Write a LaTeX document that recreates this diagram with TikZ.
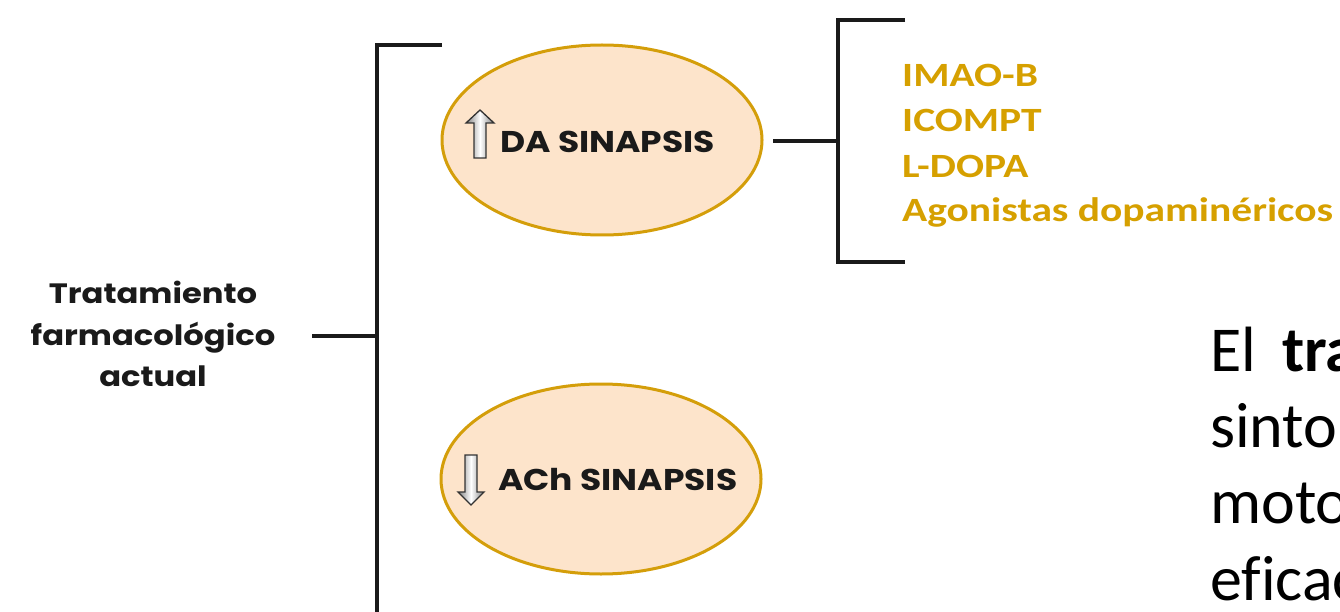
\documentclass[tikz,border=0pt]{standalone}
\usepackage{fontspec}
\usetikzlibrary{shapes.geometric}
\setmainfont{Carlito}
\newfontfamily\dfont{Poppins}[FakeStretch=1.15]
\newfontfamily\ofont{Carlito}[FakeStretch=1.22]
\definecolor{gold}{HTML}{D6A000}
\definecolor{goldline}{HTML}{D49E0A}
\definecolor{peach}{HTML}{FDE4CB}
\definecolor{ink}{HTML}{1A1A1A}
\tikzset{
  ell/.style={ellipse, draw=goldline, line width=3pt, fill=peach, minimum width=320pt, minimum height=190pt, inner sep=0pt},
  bar/.style={draw=ink, line width=3.4pt},
  dtext/.style={font=\dfont\bfseries\fontsize{30}{36}\selectfont, text=ink, inner sep=0pt},
  ltext/.style={font=\dfont\bfseries\fontsize{28}{34}\selectfont, text=ink, inner sep=0pt, anchor=base},
  otext/.style={font=\ofont\bfseries\fontsize{34}{40}\selectfont, text=gold, inner sep=0pt, anchor=base west},
  btext/.style={font=\fontsize{64}{76}\selectfont, text=black, inner sep=0pt, anchor=base west},
  blockarrow/.style={draw=black!80, line width=1.3pt, left color=black!50, right color=black!50, middle color=white}
}
\begin{document}
\begin{tikzpicture}[x=1pt,y=-1pt]
\useasboundingbox (0,0) rectangle (1340,612);
\clip (0,0) rectangle (1340,612);

% left text
\node[ltext] (tr1) at (153,303) {Tratamiento};
\node[ltext] (tr2) at (153,345) {farmacológico};
\node[ltext] (tr3) at (153,386) {actual};

% main bracket
\coordinate (b1top) at (377,45);
\coordinate (b1topend) at (442,45);
\coordinate (b1bot) at (377,640);
\coordinate (b1mid) at (377,336);
\coordinate (trout) at (312,336);
\draw[bar] (b1topend) -- (b1top) -- (b1bot);
\draw[bar] (trout) -- (b1mid);

% ellipses
\node[ell] (e1) at (602,140) {};
\node[ell] (e2) at (601,479) {};

\node[dtext, anchor=base west] (t1) at (500,153) {DA SINAPSIS};
\node[dtext, anchor=base west] (t2) at (498,490) {ACh SINAPSIS};

% up arrow
\shadedraw[blockarrow] (474,158) -- (474,123) -- (466,123) -- (480,110) -- (494,123) -- (486,123) -- (486,158) -- cycle;
% down arrow
\shadedraw[blockarrow] (465,455) -- (465,492) -- (458,492) -- (471,505) -- (484,492) -- (477,492) -- (477,455) -- cycle;

% second bracket
\coordinate (e1out) at (773,141);
\coordinate (b2mid) at (838,141);
\coordinate (b2top) at (838,20);
\coordinate (b2bot) at (838,262);
\coordinate (b2topend) at (905,20);
\coordinate (b2botend) at (905,262);
\draw[bar] (e1out) -- (b2mid);
\draw[bar] (b2topend) -- (b2top) -- (b2bot) -- (b2botend);

% orange list
\node[otext] (o1) at (902,87) {IMAO-B};
\node[otext] (o2) at (902,132) {ICOMPT};
\node[otext] (o3) at (902,178) {L-DOPA};
\node[otext] (o4) at (902,222) {Agonistas dopaminéricos};

% right text
\node[btext] (r1a) at (1210,371) {El};
\node[btext] (r1b) at (1282,371) {\bfseries tratamiento};
\node[btext] (r2) at (1210,447) {sintomático};
\node[btext] (r3) at (1210,523) {motor};
\node[btext] (r4) at (1210,600) {ef\kern0pt icacia};
\end{tikzpicture}
\end{document}
